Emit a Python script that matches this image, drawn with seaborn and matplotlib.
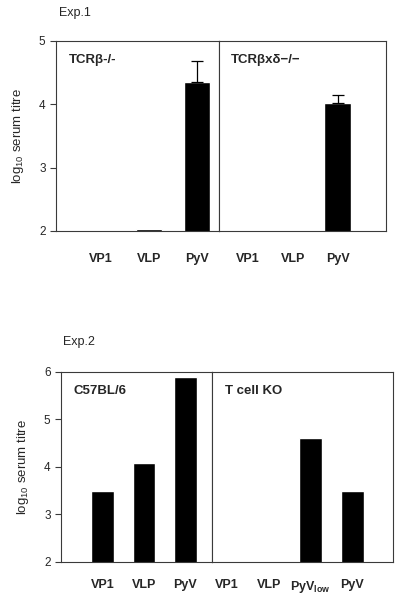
import numpy as np
import pandas as pd
import matplotlib
matplotlib.use("Agg")
import matplotlib.pyplot as plt
import seaborn as sns

# ------------------------------------------------------------------
# data (log10 serum titre, 2 = detection limit / no response)
# ------------------------------------------------------------------
exp1_left_title = "TCRβ-/-"
exp1_left_cats = ["VP1", "VLP", "PyV"]
exp1_left_vals = [2.0, 2.03, 4.35]
exp1_left_err = [0.0, 0.0, 0.33]

exp1_right_title = "TCRβxδ−/−"
exp1_right_cats = ["VP1", "VLP", "PyV"]
exp1_right_vals = [2.0, 2.0, 4.02]
exp1_right_err = [0.0, 0.0, 0.13]

exp2_left_title = "C57BL/6"
exp2_left_cats = ["VP1", "VLP", "PyV"]
exp2_left_vals = [3.5, 4.08, 5.9]

exp2_right_title = "T cell KO"
exp2_right_cats = ["VP1", "VLP", r"PyV$_{\mathbf{low}}$", "PyV"]
exp2_right_vals = [2.0, 2.0, 4.6, 3.5]

exp1_yticks = [2, 3, 4, 5]
exp2_yticks = [2, 3, 4, 5, 6]

sns.set_style("ticks")
plt.rcParams["font.family"] = ["Liberation Sans", "DejaVu Sans"]
plt.rcParams["mathtext.fontset"] = "custom"
plt.rcParams["mathtext.rm"] = "Liberation Sans"
plt.rcParams["mathtext.bf"] = "Liberation Sans:bold"
plt.rcParams["mathtext.it"] = "Liberation Sans:italic"
plt.rcParams["mathtext.default"] = "regular"

frame_col = "#3a3a3a"


def panel(ax, cats, vals, title, xlim, ylim, yticks, width, xpad, err=None, show_y=True):
    df = pd.DataFrame({"cat": cats, "val": vals})
    sns.barplot(data=df, x="cat", y="val", order=cats, color="black",
                width=width, errorbar=None, saturation=1, ax=ax)
    if err is not None:
        pos = np.arange(len(cats))
        mask = np.array(err) > 0
        ax.errorbar(pos[mask], np.array(vals)[mask],
                    yerr=[np.zeros(mask.sum()), np.array(err)[mask]],
                    fmt="none", ecolor="black", elinewidth=0.9, capsize=4, capthick=0.9)
    ax.set_xlim(*xlim)
    ax.set_ylim(*ylim)
    ax.set_xlabel("")
    ax.set_ylabel("")
    ax.set_yticks(yticks)
    ax.tick_params(axis="x", length=0, pad=xpad, labelsize=9)
    for lab in ax.get_xticklabels():
        lab.set_fontweight("bold")
    if show_y:
        ax.tick_params(axis="y", length=4.5, width=0.8, labelsize=8.5, pad=3, color=frame_col)
    else:
        ax.tick_params(axis="y", left=False, labelleft=False)
    for sp in ax.spines.values():
        sp.set_visible(True)
        sp.set_color(frame_col)
        sp.set_linewidth(0.8)
    ax.text(0.08 if show_y else 0.07, 0.9, title, transform=ax.transAxes,
            fontsize=9.5, fontweight="bold", va="center", ha="left")


fig = plt.figure(figsize=(4.0, 5.99), dpi=100)

# Exp.1
ax1 = fig.add_axes([0.14, 0.6144, 0.4075, 0.3172])
ax2 = fig.add_axes([0.5475, 0.6144, 0.4175, 0.3172])
panel(ax1, exp1_left_cats, exp1_left_vals, exp1_left_title,
      (-0.94, 2.46), (2, 5), exp1_yticks, 0.56, 15.5, err=exp1_left_err)
panel(ax2, exp1_right_cats, exp1_right_vals, exp1_right_title,
      (-0.64, 3.07), (2, 5), exp1_yticks, 0.6, 15.5, err=exp1_right_err, show_y=False)
ax1.set_ylabel("log$_{10}$ serum titre", fontsize=9.5, labelpad=9)
fig.text(0.148, 0.978, "Exp.1", fontsize=9, va="center", ha="left")

# Exp.2
ax3 = fig.add_axes([0.1525, 0.0618, 0.3775, 0.3172])
ax4 = fig.add_axes([0.53, 0.0618, 0.4525, 0.3172])
panel(ax3, exp2_left_cats, exp2_left_vals, exp2_left_title,
      (-1.0, 2.64), (2, 6), exp2_yticks, 0.55, 12)
panel(ax4, exp2_right_cats, exp2_right_vals, exp2_right_title,
      (-0.36, 3.98), (2, 6), exp2_yticks, 0.55, 12, show_y=False)
ax3.set_ylabel("log$_{10}$ serum titre", fontsize=9.5, labelpad=9)
fig.text(0.158, 0.429, "Exp.2", fontsize=9, va="center", ha="left")

fig.savefig("out.png", dpi=100)
